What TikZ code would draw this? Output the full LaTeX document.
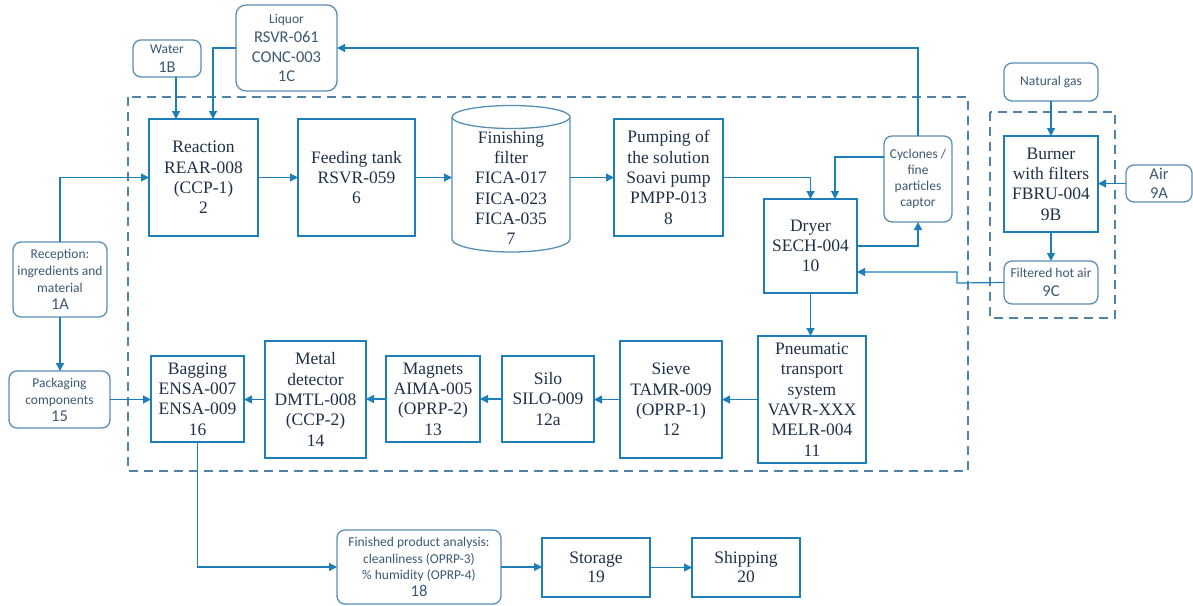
\documentclass[tikz,border=0pt]{standalone}
\usepackage{fontspec}
\setmainfont{Liberation Serif}
\newfontfamily\carl{Carlito}
\usetikzlibrary{arrows.meta,calc}
\definecolor{linec}{HTML}{1E7FB8}
\definecolor{rboxc}{HTML}{5A8DB3}
\definecolor{dashc}{HTML}{4F83A8}
\definecolor{sertext}{HTML}{1E3048}
\definecolor{santext}{HTML}{3B5875}
\newcommand{\bg}[1]{{\fontsize{16.5}{19.5}\selectfont #1}}
\newcommand{\sm}[1]{{\fontsize{13.5}{16.5}\selectfont #1}}
\begin{document}
\begin{tikzpicture}[x=1pt,y=-1pt,
  box/.style={draw=linec, line width=1.3pt, anchor=north west, inner sep=0pt, outer sep=0pt,
    align=center, text=sertext, font=\fontsize{17.5}{20.3}\selectfont},
  rbox/.style={draw=rboxc, line width=1.3pt, rounded corners=8pt, anchor=north west, inner sep=0pt,
    outer sep=0pt, align=center, text=santext, font=\carl\fontsize{13.5}{17}\selectfont},
  rboxbig/.style={rbox, font=\carl\fontsize{16.5}{19.5}\selectfont},
  arr/.style={draw=linec, line width=1.2pt, -{Triangle[length=8pt,width=8pt]}},
  dashbox/.style={draw=dashc, line width=1.5pt, dash pattern=on 9pt off 6pt},
  cyl/.style={draw=rboxc, line width=1.3pt}]
\useasboundingbox (0,0) rectangle (1193,605);
% dashed groups
\draw[dashbox] (128,97) rectangle (968,471);
\draw[dashbox] (990,112) rectangle (1115,318);
% top row
\node[rboxbig, minimum width=68pt, minimum height=37pt] (water) at (133,40) {\sm{Water}\\1B};
\node[rboxbig, rounded corners=10pt, minimum width=101pt, minimum height=86pt] (liquor) at (236,5) {\sm{Liquor}\\RSVR-061\\CONC-003\\1C};
\node[box, minimum width=109pt, minimum height=117pt] (react) at (149,119) {Reaction\\REAR-008\\(CCP-1)\\2};
\node[box, minimum width=117pt, minimum height=117pt] (feed) at (298,119) {Feeding tank\\RSVR-059\\6};
\node[anchor=north west, inner sep=0pt, outer sep=0pt, minimum width=118pt, minimum height=147pt] (filter) at (452,105) {};
\draw[cyl] (452,117) -- (452,239) arc[start angle=180, end angle=360, x radius=59pt, y radius=13pt] -- (570,117);
\draw[cyl] (511,117) ellipse[x radius=59pt, y radius=11.5pt];
\node[align=center, inner sep=0pt, text=sertext, font=\fontsize{17.5}{20.2}\selectfont] (filtertxt) at (511,188) {Finishing\\filter\\FICA-017\\FICA-023\\FICA-035\\7};
\node[box, minimum width=109pt, minimum height=117pt] (pump) at (614,119) {Pumping of\\the solution\\Soavi pump\\PMPP-013\\8};
\node[box, minimum width=93pt, minimum height=94pt] (dryer) at (764,199) {Dryer\\SECH-004\\10};
\node[rbox, font=\carl\fontsize{13.5}{16}\selectfont, minimum width=68pt, minimum height=86pt] (cyc) at (884,136) {Cyclones /\\fine\\particles\\captor};
% right group
\node[rbox, minimum width=94pt, minimum height=38pt] (gas) at (1004,63) {Natural gas};
\node[box, minimum width=94pt, minimum height=96pt] (burner) at (1004,136) {Burner\\with filters\\FBRU-004\\9B};
\node[rboxbig, minimum width=66pt, minimum height=37pt] (air) at (1126,165) {Air\\9A};
\node[rbox, font=\carl\fontsize{13.5}{18.5}\selectfont, minimum width=94pt, minimum height=43pt] (fha) at (1004,261) {Filtered hot air\\\bg{9C}};
% left side
\node[rbox, minimum width=94pt, minimum height=75pt] (rec) at (13,242) {Reception:\\ingredients and\\material\\\bg{1A}};
\node[rbox, minimum width=101pt, minimum height=57pt] (pack) at (9,371) {Packaging\\components\\\bg{15}};
% bottom row
\node[box, minimum width=93pt, minimum height=86pt] (bag) at (151,356) {Bagging\\ENSA-007\\ENSA-009\\16};
\node[box, minimum width=101pt, minimum height=117pt] (metal) at (265,341) {Metal\\detector\\DMTL-008\\(CCP-2)\\14};
\node[box, minimum width=94pt, minimum height=86pt] (mag) at (386,356) {Magnets\\AIMA-005\\(OPRP-2)\\13};
\node[box, minimum width=92pt, minimum height=86pt] (silo) at (502,356) {Silo\\SILO-009\\12a};
\node[box, minimum width=102pt, minimum height=117pt] (sieve) at (620,341) {Sieve\\TAMR-009\\(OPRP-1)\\12};
\node[box, minimum width=108pt, minimum height=127pt] (pneu) at (758,336) {Pneumatic\\transport\\system\\VAVR-XXX\\MELR-004\\11};
% final row
\node[rbox, font=\carl\fontsize{13.5}{16.5}\selectfont, minimum width=164pt, minimum height=74pt] (fin) at (337,530) {Finished product analysis:\\cleanliness (OPRP-3)\\\% humidity (OPRP-4)\\\bg{18}};
\node[box, font=\fontsize{17.5}{19}\selectfont, minimum width=108pt, minimum height=59pt] (stor) at (542,538) {Storage\\19};
\node[box, font=\fontsize{17.5}{19}\selectfont, minimum width=108pt, minimum height=59pt] (ship) at (692,538) {Shipping\\20};
% connectors
\coordinate (bend) at (957,283);
\draw[arr] ([xshift=-27.5pt]react.north |- water.south) -- ([xshift=-27.5pt]react.north);
\draw[arr] (liquor.west) -| ([xshift=9.5pt]react.north);
\draw[arr] (cyc.north) |- (liquor.east);
\draw[arr] (rec.north) |- (react.west);
\draw[arr] (rec.south) -- (rec.south |- pack.north);
\draw[arr] (pack.east) -- (pack.east -| bag.west);
\draw[arr] (react.east) -- (react.east -| feed.west);
\draw[arr] (feed.east) -- (feed.east -| filter.west);
\draw[arr] (filter.east |- pump.west) -- (pump.west);
\draw[arr] (pump.east) -| (dryer.north);
\draw[arr] ([yshift=22pt]cyc.west) -| ([xshift=24.5pt]dryer.north);
\draw[arr] (dryer.east) -| (cyc.south);
\draw[arr] (fha.west) -- (bend) |- ([yshift=-26pt]dryer.east);
\draw[arr] (dryer.south) -- (dryer.south |- pneu.north);
\draw[arr] (pneu.west) -- (pneu.west -| sieve.east);
\draw[arr] (sieve.west) -- (sieve.west -| silo.east);
\draw[arr] (silo.west) -- (silo.west -| mag.east);
\draw[arr] (mag.west) -- (mag.west -| metal.east);
\draw[arr] (metal.west) -- (metal.west -| bag.east);
\draw[arr] (bag.south) |- (fin.west);
\draw[arr] (fin.east) -- (fin.east -| stor.west);
\draw[arr] (stor.east) -- (stor.east -| ship.west);
\draw[arr] (gas.south) -- (burner.north);
\draw[arr] (burner.south) -- (fha.north);
\draw[arr] (air.west) -- (air.west -| burner.east);
\end{tikzpicture}
\end{document}
